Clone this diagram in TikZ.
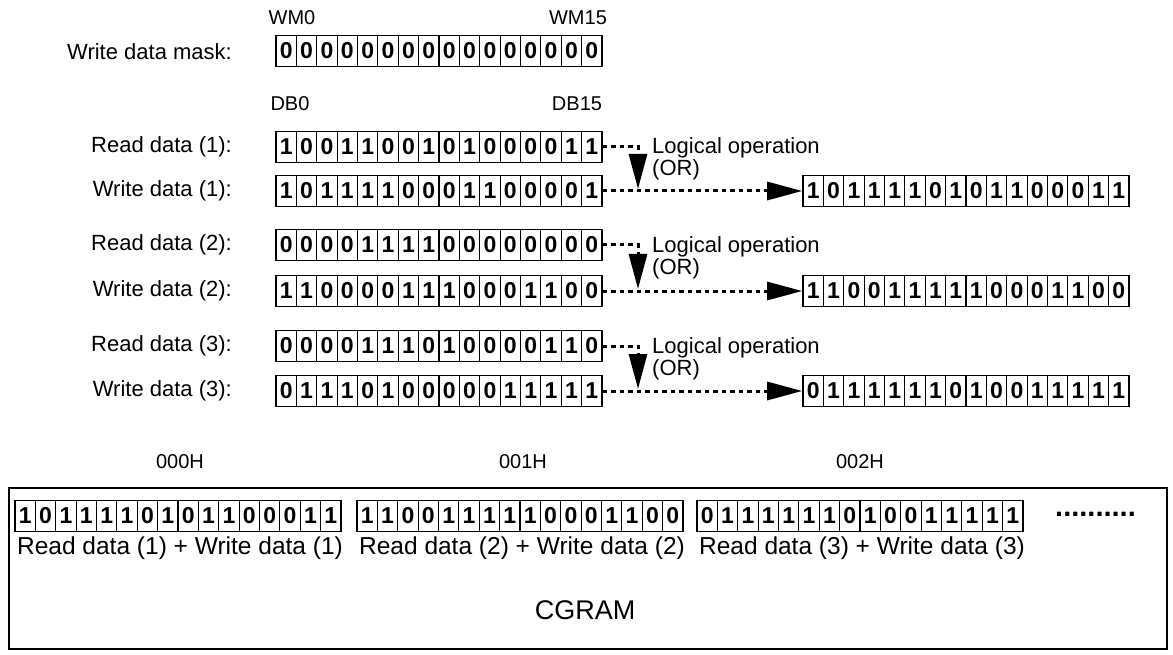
\documentclass[tikz,border=0pt]{standalone}
\usepackage{fontspec}
\setmainfont{Liberation Sans}
\usetikzlibrary{arrows.meta,fit,calc}
\tikzset{
  cell/.style={draw, line width=1.2pt, minimum width=20.375pt, minimum height=31pt, inner sep=0pt, font=\fontsize{23}{23}\selectfont\bfseries},
  lab/.style={font=\fontsize{22}{26}\selectfont, inner sep=0pt},
  small/.style={font=\fontsize{20}{24}\selectfont, inner sep=0pt},
  sumlab/.style={font=\fontsize{24.5}{28}\selectfont, inner sep=0pt},
  dotline/.style={line width=3pt, dash pattern=on 4.5pt off 4pt},
  bigtip/.style={-{Triangle[length=35pt,width=18pt]}},
}
\newcommand{\bitrow}[4]{%
  \foreach \b [count=\i] in {#4}{\node[cell] (#1-\i) at ({#2+(\i-0.5)*20.375},#3) {\b};}
  \node[fit=(#1-1)(#1-16), inner sep=0pt] (#1) {};}
\begin{document}
\begin{tikzpicture}[x=1pt,y=-1pt]
\useasboundingbox (0,0) rectangle (1173,655);
% mask
\node[small] (wm0) at (292,18) {WM0};
\node[small] (wm15) at (578,18) {WM15};
\node[lab, anchor=east] (lmask) at (232,52) {Write data mask:};
\bitrow{mask}{276}{51}{0,0,0,0,0,0,0,0,0,0,0,0,0,0,0,0}
\node[small] (db0) at (290,104) {DB0};
\node[small] (db15) at (577,104) {DB15};
% left labels
\node[lab, anchor=east] (lr1) at (232,147) {Read data (1):};
\node[lab, anchor=east] (lw1) at (232,191) {Write data (1):};
\node[lab, anchor=east] (lr2) at (232,245) {Read data (2):};
\node[lab, anchor=east] (lw2) at (232,291) {Write data (2):};
\node[lab, anchor=east] (lr3) at (232,346) {Read data (3):};
\node[lab, anchor=east] (lw3) at (232,391) {Write data (3):};
% rows
\bitrow{r1}{276}{147}{1,0,0,1,1,0,0,1,0,1,0,0,0,0,1,1}
\bitrow{w1}{276}{191}{1,0,1,1,1,1,0,0,0,1,1,0,0,0,0,1}
\bitrow{o1}{803}{191}{1,0,1,1,1,1,0,1,0,1,1,0,0,0,1,1}
\bitrow{r2}{276}{245}{0,0,0,0,1,1,1,1,0,0,0,0,0,0,0,0}
\bitrow{w2}{276}{291}{1,1,0,0,0,0,1,1,1,0,0,0,1,1,0,0}
\bitrow{o2}{803}{291}{1,1,0,0,1,1,1,1,1,0,0,0,1,1,0,0}
\bitrow{r3}{276}{346}{0,0,0,0,1,1,1,0,1,0,0,0,0,1,1,0}
\bitrow{w3}{276}{391}{0,1,1,1,0,1,0,0,0,0,0,1,1,1,1,1}
\bitrow{o3}{803}{391}{0,1,1,1,1,1,1,0,1,0,0,1,1,1,1,1}
% logical operation labels
\node[lab, anchor=west] (lo1) at (652,148) {Logical operation};
\node[lab, anchor=west] (or1) at (652,170) {(OR)};
\node[lab, anchor=west] (lo2) at (652,247) {Logical operation};
\node[lab, anchor=west] (or2) at (652,269) {(OR)};
\node[lab, anchor=west] (lo3) at (652,348) {Logical operation};
\node[lab, anchor=west] (or3) at (652,370) {(OR)};
% arrows
\coordinate (t1) at (638,189);
\coordinate (t2) at (638,289);
\coordinate (t3) at (638,389);
\draw[dotline, bigtip] (r1.east) -| (t1);
\draw[dotline, bigtip] (r2.east) -| (t2);
\draw[dotline, bigtip] (r3.east) -| (t3);
\draw[dotline, bigtip] (w1.east) -- (o1.west);
\draw[dotline, bigtip] (w2.east) -- (o2.west);
\draw[dotline, bigtip] (w3.east) -- (o3.west);
% CGRAM
\node[small] (a0) at (180,462) {000H};
\node[small] (a1) at (523,462) {001H};
\node[small] (a2) at (860,462) {002H};
\node[draw, line width=2pt, minimum width=1158pt, minimum height=161pt, inner sep=0pt, anchor=north west] (cgram) at (8,487) {};
\bitrow{m1}{15}{516}{1,0,1,1,1,1,0,1,0,1,1,0,0,0,1,1}
\bitrow{m2}{357}{516}{1,1,0,0,1,1,1,1,1,0,0,0,1,1,0,0}
\bitrow{m3}{697}{516}{0,1,1,1,1,1,1,0,1,0,0,1,1,1,1,1}
\node[font=\fontsize{29}{29}\selectfont\bfseries, inner sep=0pt, anchor=west] (dots) at (1055,514) {..........};
\node[sumlab] (s1) at (180,548) {Read data (1) + Write data (1)};
\node[sumlab] (s2) at (522,548) {Read data (2) + Write data (2)};
\node[sumlab] (s3) at (862,548) {Read data (3) + Write data (3)};
\node[font=\fontsize{27}{27}\selectfont, inner sep=0pt] (cglab) at (585,610) {CGRAM};
\end{tikzpicture}
\end{document}
